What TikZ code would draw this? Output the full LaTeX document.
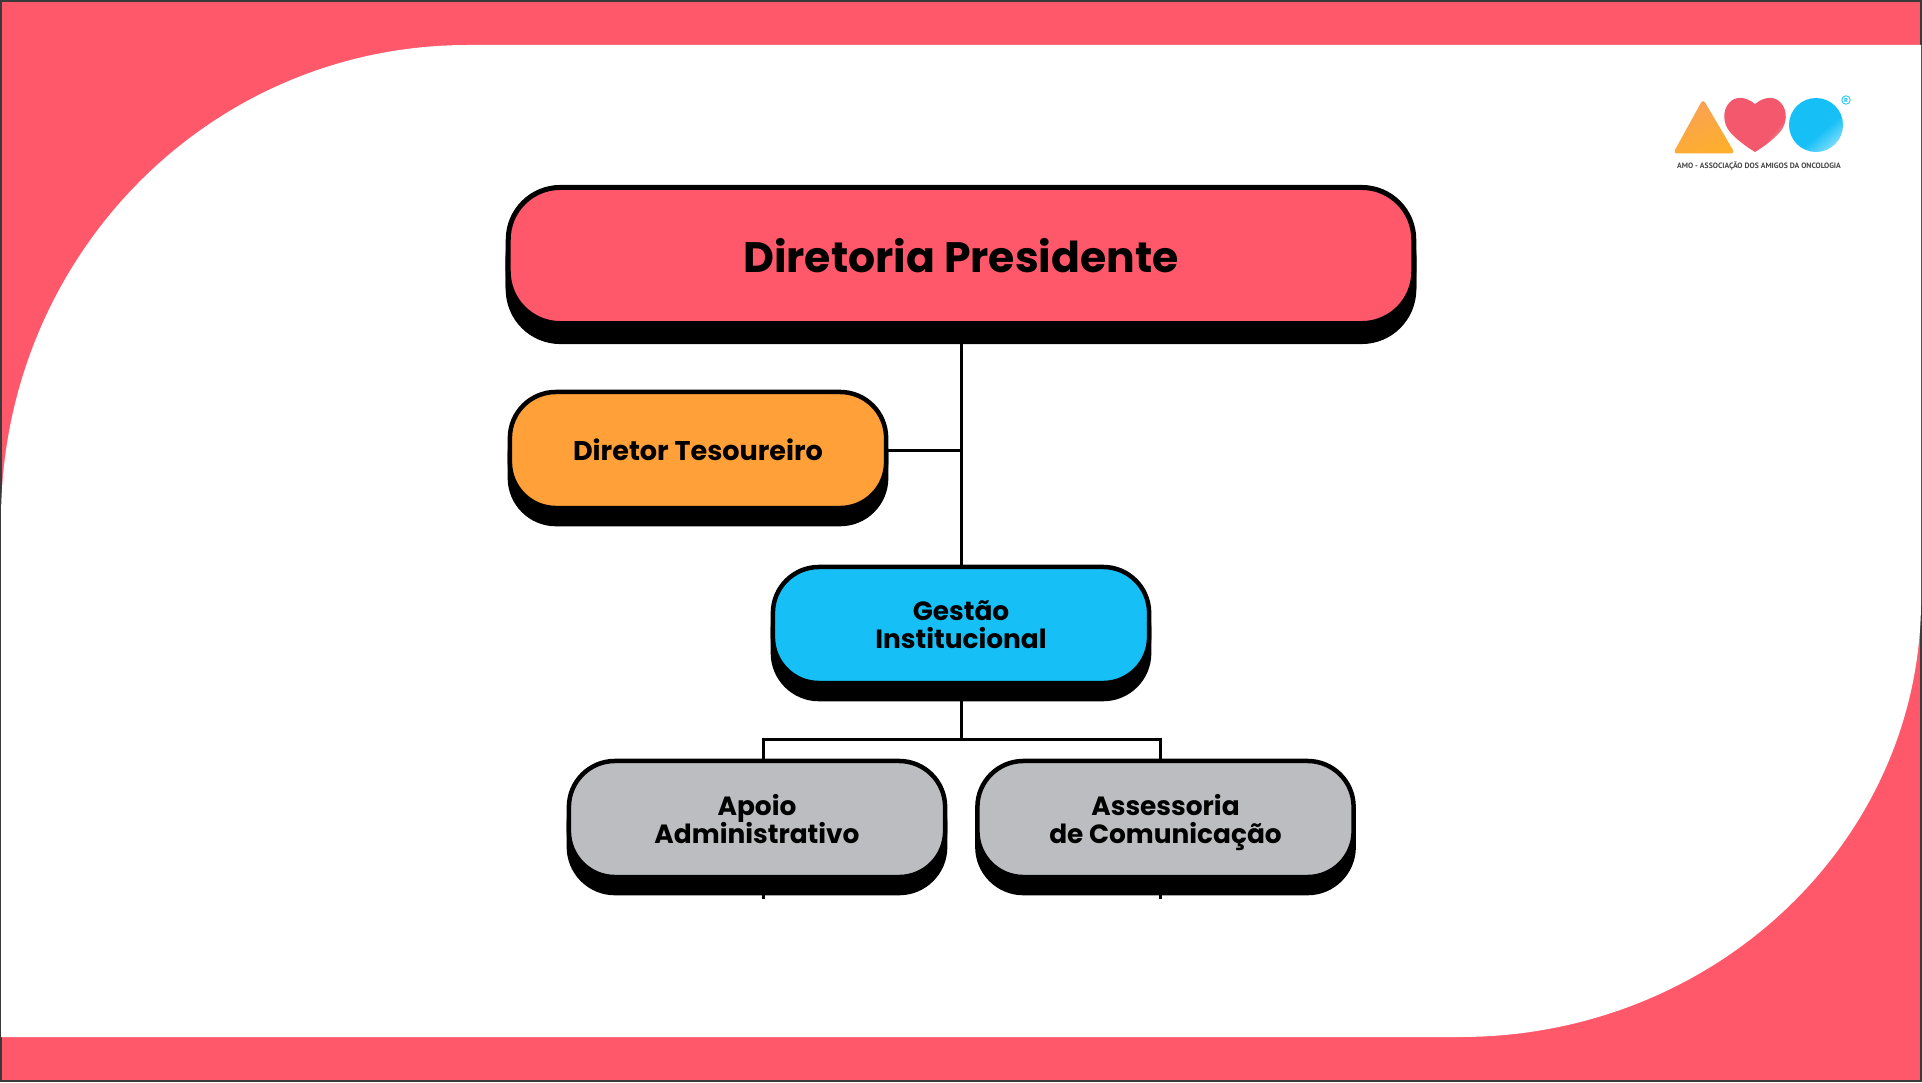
\documentclass[tikz,border=0pt]{standalone}
\usepackage{fontspec}
\setmainfont{Poppins}
\newfontfamily\logofont{PT Sans}
\usepackage{xcolor}
\usetikzlibrary {backgrounds,shadows}

\normallineskiplimit=-10pt
\lineskiplimit=-10pt

\definecolor{amored}{RGB}{255,88,106}
\definecolor{amoorange}{RGB}{255,160,56}
\definecolor{amoblue}{RGB}{22,192,247}
\definecolor{amogray}{RGB}{188,189,192}
\definecolor{framegray}{RGB}{58,58,58}
\definecolor{logotext}{RGB}{70,70,70}
\definecolor{heartred}{RGB}{243,88,108}
\definecolor{triloworange}{RGB}{250,160,85}
\definecolor{trihighorange}{RGB}{253,175,45}

\pgfdeclarehorizontalshading{heartshade}{100bp}{color(0bp)=(heartred); color(66bp)=(heartred); color(72bp)=(heartred!70!white); color(100bp)=(heartred!35!white)}
\pgfdeclarehorizontalshading{circleshade}{100bp}{color(0bp)=(amoblue); color(58bp)=(amoblue); color(74bp)=(amoblue!60!white); color(100bp)=(amoblue!40!white)}

\tikzset{
  orgbox/.style={rectangle, rounded corners=0.46cm, draw=black, line width=0.045cm,
    minimum width=3.76cm, minimum height=1.16cm, align=center,
    font=\fontsize{7.5}{8}\selectfont\bfseries,
    drop shadow={shadow xshift=0cm, shadow yshift=-0.16cm, opacity=1, fill=black, draw=black}},
  linkline/.style={draw=black, line width=0.03cm}
}

\begin{document}
\begin{tikzpicture}[x=0.01cm,y=-0.01cm]
\useasboundingbox (0,0) rectangle (1922,1082);

\node (pres) at (961,255.5) [orgbox, fill=amored, minimum width=9.05cm, minimum height=1.36cm, rounded corners=0.52cm,
  line width=0.05cm, font=\fontsize{12.1}{12}\selectfont\bfseries,
  drop shadow={shadow xshift=0cm, shadow yshift=-0.18cm, opacity=1, fill=black, draw=black}] {Diretoria Presidente};
\node (tes) at (698,450) [orgbox, fill=amoorange, font=\fontsize{7.7}{8}\selectfont\bfseries] {Diretor Tesoureiro};
\node (gest) at (961,625) [orgbox, fill=amoblue] {Gestão\\Institucional};
\node (apoio) at (757,819) [orgbox, fill=amogray] {Apoio\\Administrativo};
\node (assess) at (1165.5,819) [orgbox, fill=amogray, text depth=0pt] {Assessoria\\de Comunicação};

% fork under Gestao
\coordinate (fork) at (961,739);
\coordinate (forkl) at (763,739);
\coordinate (forkr) at (1160,739);
\coordinate (apoiofoot) at (763,897);
\coordinate (assessfoot) at (1160,897);

% logo
\path[left color=triloworange, right color=trihighorange, shading angle=20, rounded corners=0.04cm]
  (1703,99) -- (1735,153.5) -- (1673,153.5) -- cycle;
\path[shading=heartshade, shading angle=-40]
  (1755,104) .. controls (1745,96) and (1735,96) .. (1729,103)
  .. controls (1722,111) and (1723,124) .. (1730,132)
  .. controls (1738,141) and (1747,147) .. (1755,152)
  .. controls (1763,147) and (1772,141) .. (1780,132)
  .. controls (1787,124) and (1788,111) .. (1781,103)
  .. controls (1775,96) and (1765,96) .. (1755,104) -- cycle;
\node (circ) at (1816,125) [circle, minimum size=0.54cm, inner sep=0pt, shading=circleshade, shading angle=-50] {};
\node (reg) at (1846,100) [circle, draw=amoblue, line width=0.008cm, minimum size=0.085cm, inner sep=0pt,
  text=amoblue, font=\fontsize{1.7}{2}\selectfont\bfseries] {R};
\node (logolabel) at (1759,166) [inner sep=0pt, text=logotext, font=\logofont\fontsize{2.2}{3}\selectfont\bfseries]
  {AMO - ASSOCIAÇÃO DOS AMIGOS DA ONCOLOGIA};

\begin{scope}[on background layer]
% page
\fill[framegray] (0,0) rectangle (1922,1082);
\fill[amored] (2,2) rectangle (1920,1080);
\fill[white] (1,520) .. controls (1,258) and (208,45) .. (468,45) -- (1921,45) -- (1921,600)
  .. controls (1921,841) and (1715,1037) .. (1460,1037) -- (1,1037) -- cycle;
% connectors
\draw[linkline] (pres.south) -- (gest.north);
\draw[linkline] (tes.east) -- (tes.east -| pres.south);
\draw[linkline] (gest.south) -- (fork);
\draw[linkline, line cap=rect] (apoiofoot) -- (forkl) -- (forkr) -- (assessfoot);
\end{scope}

\end{tikzpicture}
\end{document}
